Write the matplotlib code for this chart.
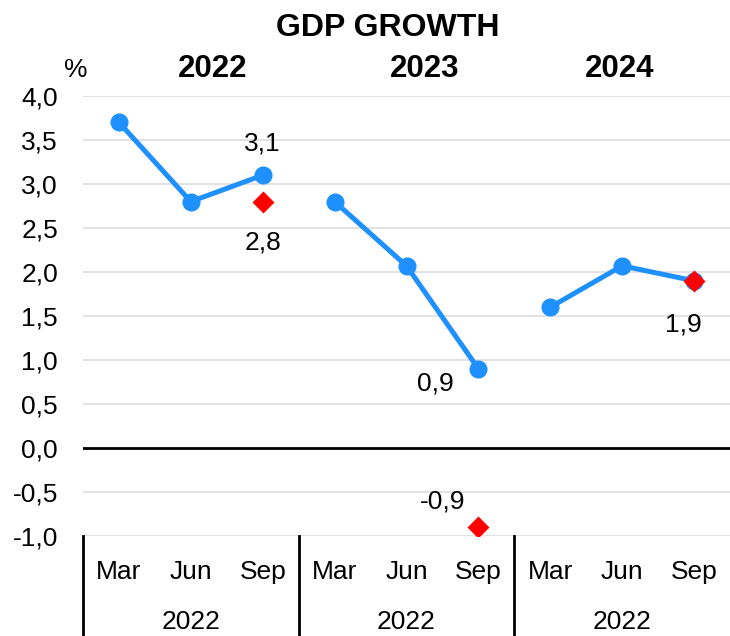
import matplotlib
matplotlib.use("Agg")
import matplotlib.pyplot as plt
import numpy as np

plt.rcParams['font.family'] = ['Liberation Sans', 'DejaVu Sans']

months = ["Mar", "Jun", "Sep"]
group_years = ["2022", "2023", "2024"]
bottom_years = ["2022", "2022", "2022"]
growth_2022 = [3.7, 2.8, 3.1]
growth_2023 = [2.8, 2.07, 0.9]
growth_2024 = [1.6, 2.07, 1.9]
red_values = [2.8, -0.9, 1.9]          # red diamonds at each Sep
red_labels = ["2,8", "-0,9", "1,9"]
yticks = [-1.0, -0.5, 0.0, 0.5, 1.0, 1.5, 2.0, 2.5, 3.0, 3.5, 4.0]

W, H = 730, 636
fig = plt.figure(figsize=(W / 100, H / 100), dpi=100)
left, right, top, bottom = 83, 730, 96, 536
ax = fig.add_axes([left / W, 1 - bottom / H, (right - left) / W, (bottom - top) / H])

blue = "#1E90FF"
series = [growth_2022, growth_2023, growth_2024]
for g, vals in enumerate(series):
    xs = np.arange(3) + 3 * g
    ax.plot(xs, vals, color=blue, lw=3.6, marker="o", ms=12, zorder=3,
            solid_capstyle="round")
    ax.plot(xs[-1], red_values[g], marker="D", color="#FF0000", ms=11,
            mec="none", zorder=4, linestyle="none")

ax.set_xlim(-0.5, 8.5)
ax.set_ylim(-1.0, 4.0)
fs = 19
ax.set_yticks(yticks)
ax.set_yticklabels([f"{v:.1f}".replace(".", ",") for v in yticks], fontsize=fs)
ax.tick_params(axis="y", length=0, pad=18)
ax.set_xticks([])
for s in ax.spines.values():
    s.set_visible(False)
for v in yticks:
    if v == 0:
        ax.axhline(0, color="black", lw=2, zorder=2)
    else:
        ax.axhline(v, color="#DDDDDD", lw=1.2, zorder=1)

# data labels
ax.text(2, 3.1 + 0.22, "3,1", ha="center", va="bottom", fontsize=fs)
ax.text(2, red_values[0] - 0.33, red_labels[0], ha="center", va="top", fontsize=fs)
ax.text(4.4, 0.9 - 0.03, "0,9", ha="center", va="top", fontsize=fs)
ax.text(4.5, red_values[1] + 0.15, red_labels[1], ha="center", va="bottom", fontsize=fs)
ax.text(7.85, red_values[2] - 0.36, red_labels[2], ha="center", va="top", fontsize=fs)

# group titles
for g, x in enumerate([1.31, 4.25, 6.97]):
    ax.text(x, 4.0 + 0.14, group_years[g], ha="center", va="bottom",
            fontsize=22.5, fontweight="bold")
ax.text(-0.6, 4.0 + 0.16, "%", ha="center", va="bottom", fontsize=fs)

fig.text(388 / W, 1 - 28 / H, "GDP GROWTH", ha="center", va="center",
         fontsize=23, fontweight="bold")

# multi-level category axis
trans = ax.get_xaxis_transform()
for i in range(9):
    ax.text(i, -0.082, months[i % 3], ha="center", va="center", fontsize=fs,
            transform=trans, clip_on=False)
for g in range(3):
    ax.text(3 * g + 1, -0.195, bottom_years[g], ha="center", va="center",
            fontsize=fs, transform=trans, clip_on=False)
for xb in [-0.5, 2.5, 5.5]:
    ax.plot([xb, xb], [0, -0.3], color="black", lw=2, transform=trans,
            clip_on=False)

fig.savefig("out.png", dpi=100)
